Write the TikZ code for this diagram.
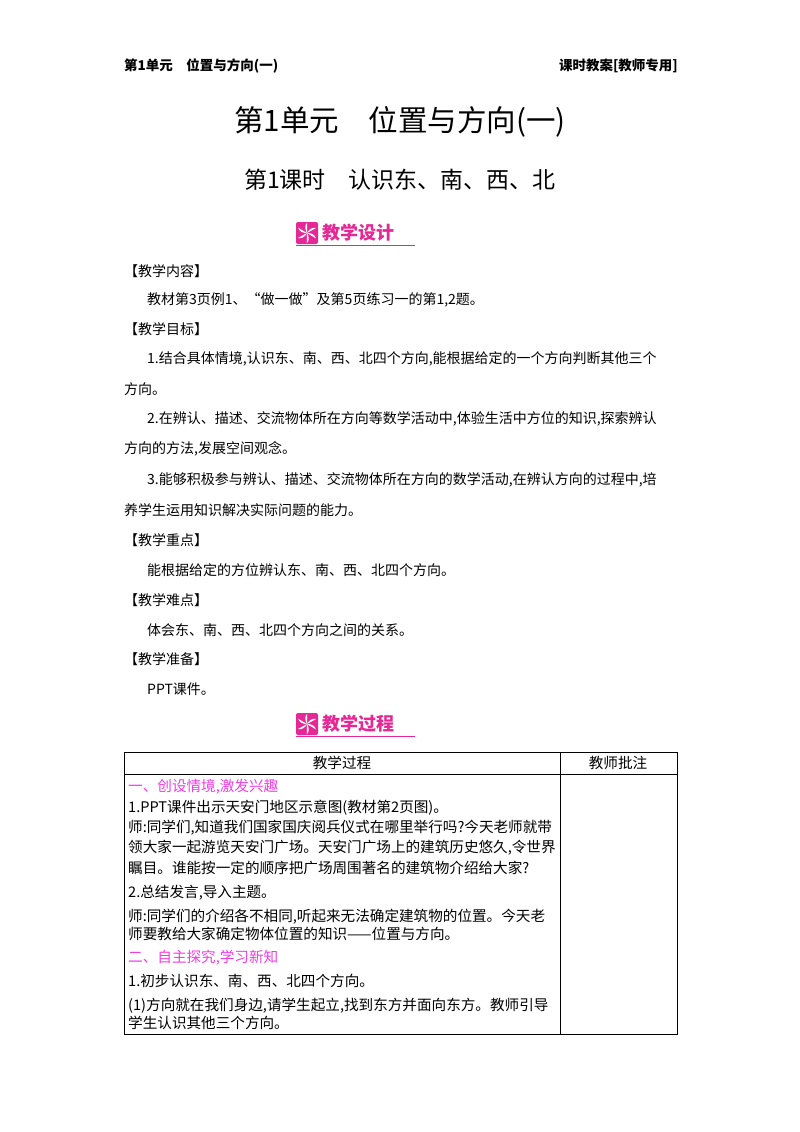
\documentclass[tikz,border=0pt]{standalone}
\usepackage{fontspec}
\setmainfont{Noto Sans CJK SC}
\definecolor{mag}{RGB}{230,40,150}
\definecolor{pinkt}{RGB}{240,60,230}
\tikzset{
  body/.style={anchor=west,inner sep=0pt,font=\fontsize{14}{16}\selectfont},
  tcell/.style={anchor=west,inner sep=0pt,font=\fontsize{14.6}{16}\selectfont},
  head/.style={anchor=west,inner sep=0pt,font=\fontsize{13.5}{15}\selectfont\bfseries},
}
\begin{document}
\begin{tikzpicture}[x=1pt,y=-1pt]
\useasboundingbox (0,0) rectangle (800,1132);
\fill[white] (0,0) rectangle (800,1132);
% header
\node[head] (h1) at (124,66) {第1单元\quad 位置与方向(一)};
\node[head,anchor=east] (h2) at (678,66) {课时教案[教师专用]};
% titles
\node[inner sep=0pt,font=\fontsize{29.5}{32}\selectfont] (t1) at (400,122) {第1单元\quad 位置与方向(一)};
\node[inner sep=0pt,font=\fontsize{23}{26}\selectfont] (t2) at (400,180) {第1课时\quad 认识东、南、西、北};
% banners
\foreach \yy/\txt/\nm in {233/教学设计/ba,724/教学过程/bb}{
  \fill[mag,rounded corners=2pt] (296,\yy-11) rectangle (318,\yy+11);
  \foreach \a in {0,60,...,300}{
    \fill[white,rotate around={\a:(307,\yy)}] (307,\yy) .. controls (309,\yy-4) and (313,\yy-6) .. (316,\yy-5) .. controls (312,\yy-3) .. (307,\yy) -- cycle;
  }
  \node[anchor=west,inner sep=0pt,text=mag,font=\fontsize{18}{20}\selectfont\bfseries] (\nm) at (322,\yy) {\txt};
  \draw[mag,line width=0.8pt] (296,\yy+12) -- (415,\yy+12);
}
% body
\node[body] (b1) at (124,271) {【教学内容】};
\node[body] (b2) at (147,300) {教材第3页例1、“做一做”及第5页练习一的第1,2题。};
\node[body] (b3) at (124,329) {【教学目标】};
\node[body] (b4) at (147,359) {1.结合具体情境,认识东、南、西、北四个方向,能根据给定的一个方向判断其他三个};
\node[body] (b5) at (124,389) {方向。};
\node[body] (b6) at (147,419) {2.在辨认、描述、交流物体所在方向等数学活动中,体验生活中方位的知识,探索辨认};
\node[body] (b7) at (124,449) {方向的方法,发展空间观念。};
\node[body] (b8) at (147,480) {3.能够积极参与辨认、描述、交流物体所在方向的数学活动,在辨认方向的过程中,培};
\node[body] (b9) at (124,510) {养学生运用知识解决实际问题的能力。};
\node[body] (b10) at (124,540) {【教学重点】};
\node[body] (b11) at (147,570) {能根据给定的方位辨认东、南、西、北四个方向。};
\node[body] (b12) at (124,600) {【教学难点】};
\node[body] (b13) at (147,630) {体会东、南、西、北四个方向之间的关系。};
\node[body] (b14) at (124,659) {【教学准备】};
\node[body] (b15) at (147,689) {PPT课件。};
% table
\draw[line width=0.9pt] (124,752) rectangle (677,1034);
\draw[line width=0.6pt] (124,774) -- (677,774);
\draw[line width=0.6pt] (560,752) -- (560,1034);
\node[tcell,anchor=center] (c0) at (342,763) {教学过程};
\node[tcell,anchor=center] (c00) at (618,763) {教师批注};
\node[tcell,text=pinkt] (c1) at (128,787) {一、创设情境,激发兴趣};
\node[tcell] (c2) at (128,808) {1.PPT课件出示天安门地区示意图(教材第2页图)。};
\node[tcell] (c3) at (128,828) {师:同学们,知道我们国家国庆阅兵仪式在哪里举行吗?今天老师就带};
\node[tcell] (c4) at (128,848) {领大家一起游览天安门广场。天安门广场上的建筑历史悠久,令世界};
\node[tcell] (c5) at (128,868) {瞩目。谁能按一定的顺序把广场周围著名的建筑物介绍给大家?};
\node[tcell] (c6) at (128,893) {2.总结发言,导入主题。};
\node[tcell] (c7) at (128,917) {师:同学们的介绍各不相同,听起来无法确定建筑物的位置。今天老};
\node[tcell] (c8) at (128,934) {师要教给大家确定物体位置的知识——位置与方向。};
\node[tcell,text=pinkt] (c9) at (128,958) {二、自主探究,学习新知};
\node[tcell] (c10) at (128,981) {1.初步认识东、南、西、北四个方向。};
\node[tcell] (c11) at (128,1006) {(1)方向就在我们身边,请学生起立,找到东方并面向东方。教师引导};
\node[tcell] (c12) at (128,1023) {学生认识其他三个方向。};
\end{tikzpicture}
\end{document}
